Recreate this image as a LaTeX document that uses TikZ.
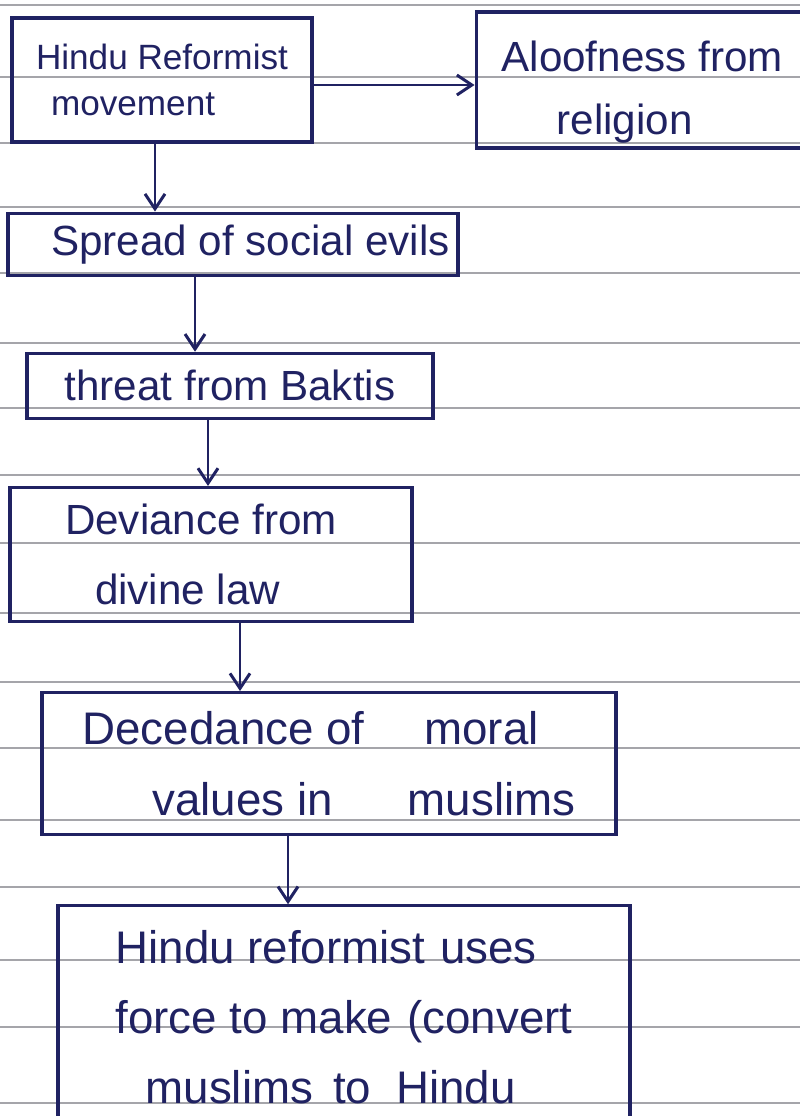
\documentclass[tikz,border=0pt]{standalone}
\usepackage{fontspec}
\setmainfont{Liberation Sans}
\usepackage{xcolor}
\usepackage{tikz}
\usetikzlibrary{arrows.meta}
\usetikzlibrary{shapes,positioning}
\definecolor{ink}{RGB}{32,34,98}
\definecolor{rule}{RGB}{165,165,170}
\tikzset{flow-line/.style={line width=1.7pt, color=ink}}
\tikzset{>={Straight Barb[length=3mm,width=4mm,line width=1.7pt]}}
\tikzset{flow-box/.style={draw=ink, line width=1.8pt, inner sep=0, text=ink, font=\fontsize{24}{40}\selectfont}}
\tikzset{paper-line/.style={color=rule, line width=0.9pt}}

\begin{document}
\begin{tikzpicture}[]
            \useasboundingbox (0,0) rectangle (16,-22.32);
            \foreach \y in {0.10,1.54,2.86,4.14,5.46,6.86,8.16,9.50,10.86,12.26,13.64,14.96,16.40,17.74,19.20,20.54,22.06}
                \draw[paper-line] (0,-\y) -- (16,-\y);

            \node[flow-box, minimum width=6cm, minimum height=2.48cm, align=left, font=\fontsize{20}{26}\selectfont] (node1) at (3.24,-1.60) {Hindu Reformist\\\hspace*{0.3cm}movement};
            \node[flow-box, minimum width=6.64cm, minimum height=2.72cm, right=3.22cm of node1, align=center, font=\fontsize{24}{36}\selectfont] (node2) {\rule{0pt}{1.1cm}Aloofness from\\religion\hspace*{0.7cm}};

            \node[flow-box, minimum width=9cm, minimum height=1.24cm, below=1.36cm of node1.south, xshift=1.42cm] (node3) {\hspace*{0.7cm}Spread of social evils};
            \node[flow-box, minimum width=8.12cm, minimum height=1.30cm, below=1.50cm of node3.south, xshift=-0.06cm] (node4) {threat from Baktis};
            \node[flow-box, minimum width=8.04cm, minimum height=2.68cm, below=1.32cm of node4.south, xshift=-0.38cm, align=left] (node5) {Deviance from\hspace*{0.4cm}\\\hspace*{0.6cm}divine law};
            \node[flow-box, minimum width=11.48cm, minimum height=2.84cm, below=1.36cm of node5.south, xshift=2.36cm, align=left, font=\fontsize{26}{40}\selectfont] (node6) {Decedance of\hspace{1.2cm}moral\\\hspace*{1.4cm}values in\hspace{1.5cm}muslims};
            \node[flow-box, minimum width=11.44cm, minimum height=4.46cm, below=1.36cm of node6.south, xshift=0.30cm, align=left, font=\fontsize{26}{40}\selectfont] (node7) {Hindu reformist\hspace{0.3cm}uses\\force to make\hspace{0.3cm}(convert\\\hspace*{0.6cm}muslims\hspace{0.4cm}to\hspace{0.5cm}Hindu};

            \draw[->, flow-line] ([yshift=-0.1cm]node1.east) -- ([yshift=-0.1cm]node1.east -| node2.west);
            \draw[->, flow-line] ([xshift=-0.14cm]node1.south) -- ([xshift=-0.14cm]node1.south |- node3.north);
            \draw[->, flow-line] ([xshift=-0.76cm]node3.south) -- ([xshift=-0.76cm]node3.south |- node4.north);
            \draw[->, flow-line] ([xshift=-0.44cm]node4.south) -- ([xshift=-0.44cm]node4.south |- node5.north);
            \draw[->, flow-line] ([xshift=0.58cm]node5.south) -- ([xshift=0.58cm]node5.south |- node6.north);
            \draw[->, flow-line] ([xshift=-0.82cm]node6.south) -- ([xshift=-0.82cm]node6.south |- node7.north);

        \end{tikzpicture}
\end{document}
